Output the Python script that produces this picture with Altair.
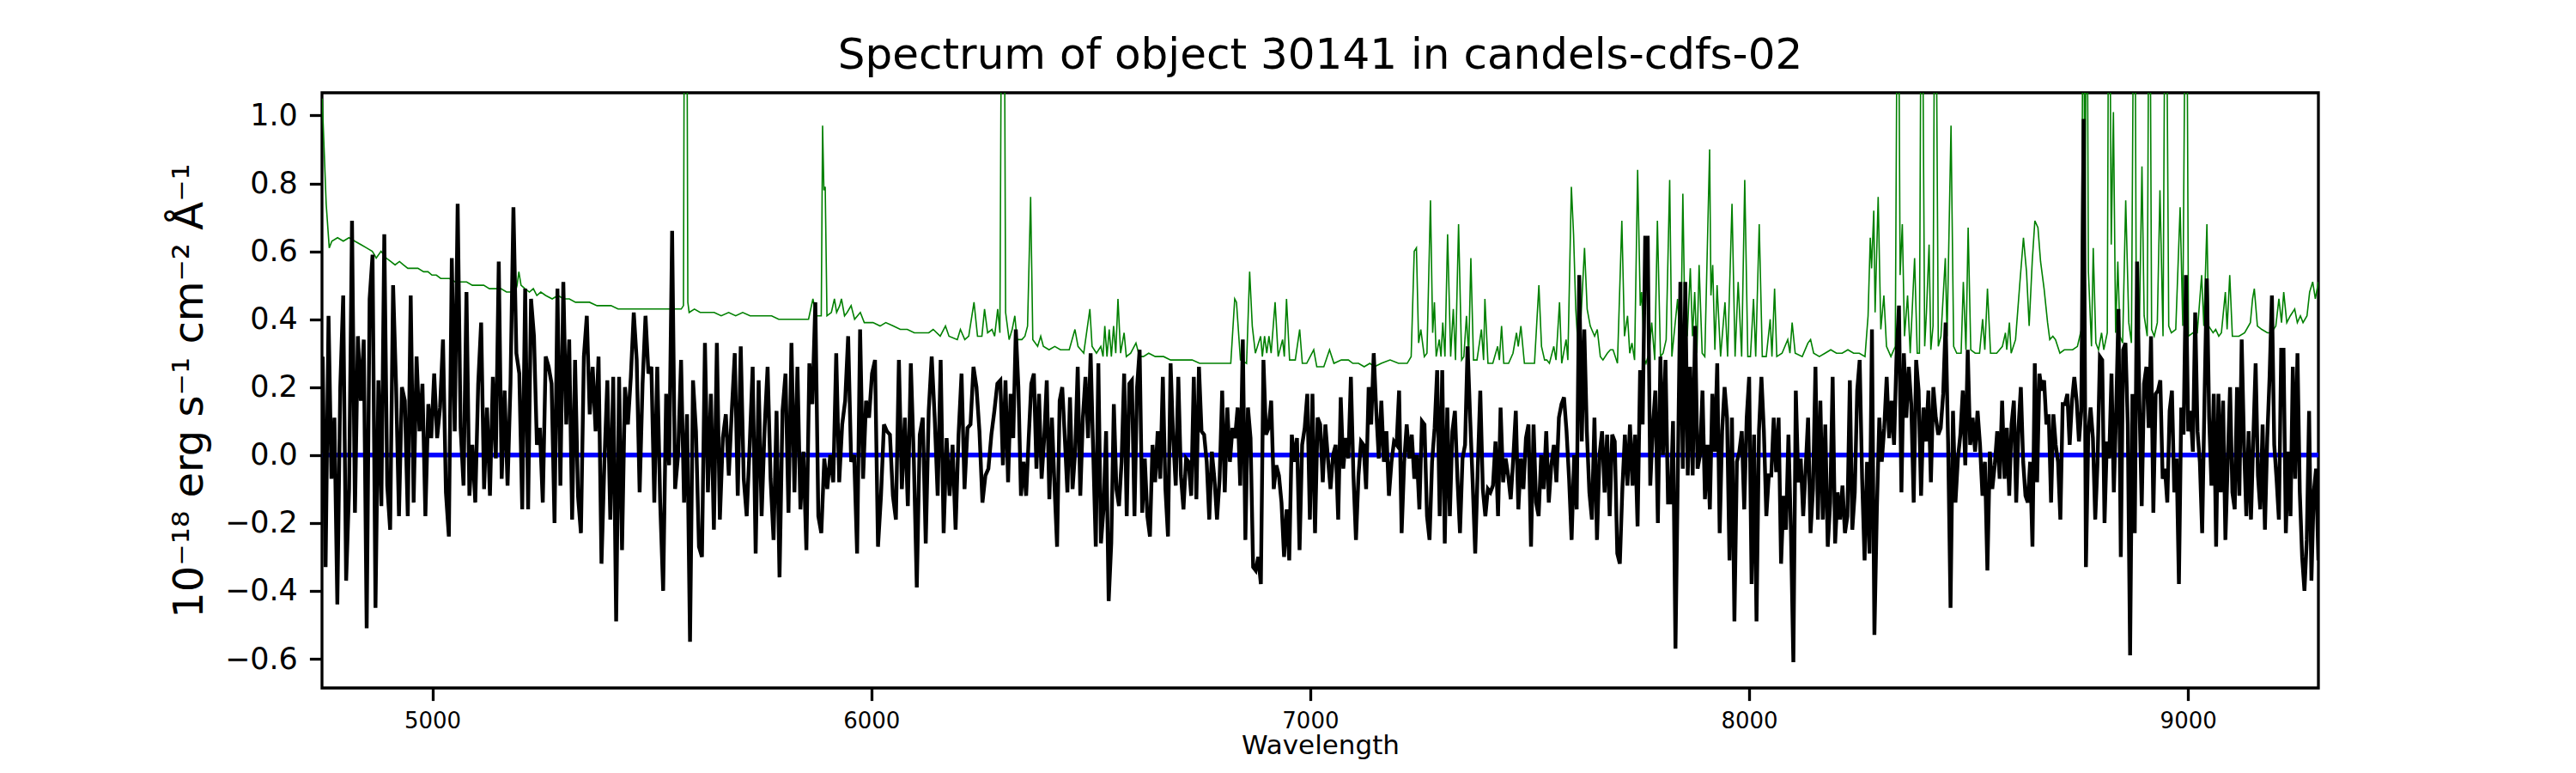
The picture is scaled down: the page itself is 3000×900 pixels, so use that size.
import altair as alt
import numpy as np
import pandas as pd

# ---------------- data ----------------
TITLE = "Spectrum of object 30141 in candels-cdfs-02"
X_TITLE = "Wavelength"
Y_TITLE = "10⁻¹⁸ erg s⁻¹ cm⁻² Å⁻¹"
X_TICKS = [5000, 6000, 7000, 8000, 9000]
Y_TICKS = [-0.6, -0.4, -0.2, 0.0, 0.2, 0.4, 0.6, 0.8, 1.0]
X_RANGE = [4748.5, 9297]
Y_RANGE = [-0.686, 1.067]

# black flux, read in six consecutive wavelength segments
SEG_EDGES = [4750, 5519, 6294, 7058, 7821, 8582, 9297]
FLUX_SEG1 = [.29,-.33,.41,-.07,.11,-.44,.20,.47,-.37,-.10,
             .69,-.17,.35,.16,.34,-.51,.46,.59,-.45,.22,
             -.15,.65,-.09,-.22,.50,.21,-.18,.20,.16,-.18,
             .47,-.14,.29,.07,.21,-.18,.15,.05,.24,.05,
             .14,.34,-.11,-.24,.58,.07,.74,.08,-.09,.48,
             -.12,.03,-.14,.21,.39,-.10,.14,-.12,.23,-.01,
             .57,-.07,.19,-.09,.21,.73,.30,.24,-.16,.49,
             -.16,.46,.35,.03,.08,-.14,.29,.26,.21,-.20,
             .49,-.09,.51,.09,.34,-.19,.28,-.12,-.23,.29,
             .41,.12,.26,.07,.29,-.32,-.02,.22,-.19,.23,
             -.49,.23,-.28,.20,.09,.23,.42,.28,-.11,.21,
             .41,.24,.26,-.14,.26]
FLUX_SEG2 = [-.14,-.40,.18,-.03,.66,-.10,.00,.28,-.14,.12,
             -.55,.22,.07,-.27,-.30,.33,-.11,.18,-.22,.33,
             -.19,.05,.12,-.06,.13,.30,-.12,.32,-.07,-.18,
             .03,.26,-.29,.22,-.18,.08,.26,-.07,-.25,.13,
             -.36,.13,.24,-.17,.33,-.11,.26,-.16,.01,-.28,
             .27,.15,.45,-.18,-.23,-.01,-.10,.00,-.08,.30,
             -.08,.09,.16,.35,-.02,.00,-.29,.37,-.07,.16,
             .11,.24,.28,-.27,-.12,.09,.07,.06,-.12,-.19,
             .28,-.10,.11,-.15,.27,-.01,-.39,.06,.11,-.26,
             .13,.29,.11,-.12,.28,-.23,.05,-.12,.03,-.22,
             .06,.24,-.10,.08,.09,.26,.20,.07,-.14,-.06,
             -.04,.06,.13,.21]
FLUX_SEG3 = [.22,-.03,.22,-.08,.18,.05,.37,.20,-.12,-.02,
             -.12,.05,.21,.24,-.04,.18,-.07,.05,.22,-.13,
             .11,-.09,-.27,.16,.20,.05,-.11,.17,-.10,.01,
             .26,-.12,.11,.23,.05,.30,.01,-.27,.27,-.26,
             -.16,.07,-.43,-.26,.15,-.10,-.15,-.02,.24,-.18,
             .21,.22,-.18,.20,.31,-.17,-.01,-.18,-.24,.03,
             -.08,.07,-.07,.23,-.10,-.24,.27,.05,-.09,.23,
             -.06,-.16,-.01,-.02,-.12,.23,-.13,.26,.07,.06,
             -.02,-.19,.01,-.07,-.19,-.07,.19,-.11,.14,-.02,
             .08,.05,.14,-.09,.34,-.25,.14,.05,-.33,-.34,
             -.30,-.38,.28,.06,.08,.16,-.10,-.03,-.06,-.14,
             -.30,-.16,-.31,.06,-.02,.05,-.28,.03,.08,.18,
             -.19,.18,-.23,.11,.09,-.08,.09,-.01,-.10,.00]
FLUX_SEG4 = [.03,-.19,.17,-.04,.05,-.01,.23,-.06,-.25,-.06,
             .04,.03,-.10,.20,.09,.30,.13,-.01,.16,-.02,
             .07,-.12,-.02,.04,.03,.19,-.23,-.02,.09,-.01,
             .06,-.07,.00,-.16,.10,.09,-.18,-.25,-.02,.08,
             .25,-.18,.25,-.26,.14,-.18,.07,.13,-.07,-.23,
             -.01,.03,.32,.11,-.08,-.29,-.04,.19,-.10,-.18,
             -.10,-.11,-.09,.04,-.18,.14,-.08,-.01,-.06,-.13,
             -.01,.13,-.16,-.01,-.10,.05,.09,-.27,.09,-.14,
             -.18,.00,-.10,.07,-.14,-.03,.03,-.08,.11,.15,
             .17,.07,-.07,-.25,.00,-.16,.53,.04,.37,.07,
             -.11,-.19,.11,-.25,.00,.07,-.11,.06,-.18,.06,
             .04,-.29,-.32,-.10,.06,-.09,.09,-.09,.06,-.21,
             .25,.09,.64,.64,-.09,.08,.19,-.20,.29,.00,
             .28,-.14]
FLUX_SEG5 = [-.14,.10,-.57,-.03,.51,-.04,.51,-.06,.26,-.06,
             .38,-.04,.00,.19,-.13,.03,-.16,.18,.01,.27,
             -.23,.07,.20,.11,-.31,.11,-.49,-.02,.01,.07,
             -.16,.11,.23,-.38,.06,-.49,.07,.23,.07,-.18,
             -.06,-.06,.11,-.05,.11,-.32,-.12,-.22,.06,-.22,
             -.61,.19,-.08,-.01,-.18,-.04,.11,-.23,-.10,.26,
             -.19,.16,-.19,.09,-.27,-.14,.23,-.26,-.11,-.19,
             -.09,-.23,-.18,.22,-.22,-.11,.19,.28,-.07,-.31,
             -.02,-.29,.37,-.53,-.16,.11,-.02,.08,.23,.05,
             .16,.03,.29,.44,-.11,.30,.11,.26,.15,-.14,
             .28,.19,-.12,.14,.04,.19,-.08,.20,.11,.06,
             .08,.18,.39,.04,-.45,.13,-.14,-.01,.06,.19,
             -.03,.31,.03,.11,.01,.13,.03,-.12,-.02,-.34,
             .01,-.10,-.03,.07,-.07,.16]
FLUX_SEG6 = [-.07,.08,-.12,.09,.16,-.14,.08,.20,-.02,-.12,
             -.14,-.02,-.27,.27,-.08,.24,.19,.22,.09,.12,
             -.14,.12,.03,-.02,-.19,.15,.15,.18,.03,.16,
             .23,.16,.04,.13,.99,-.33,.06,.14,.05,-.19,
             -.02,.29,.28,-.20,.04,-.01,.24,-.11,.13,.43,
             -.30,.31,.33,.09,-.59,.18,-.23,.57,.16,-.15,
             .21,.26,.08,.35,-.17,.18,.19,.22,-.07,-.04,
             -.14,.13,.19,-.11,-.01,-.38,.14,.06,.53,.07,
             .13,.01,.42,.07,-.02,-.23,.16,.52,.11,-.09,
             .18,-.27,.18,-.11,.16,-.25,-.02,.20,-.11,-.16,
             .20,-.12,.34,.03,-.18,.07,-.19,.05,.27,-.06,
             -.16,.09,-.22,.05,.23,.47,.03,-.07,-.19,.31,
             .31,-.23,.01,-.18,.26,-.07,.30,-.11,-.30,-.40,
             -.25,.13,-.37,-.11,-.04,-.31]

# green curve (wavelength, value); 1.8 = line running off the top
SKY_1 = [(4749,1.05),(4758,0.74),(4765,0.61),(4771,0.63),(4784,0.64),(4797,0.63),(4810,0.64),
         (4823,0.63),(4837,0.62),(4850,0.61),(4863,0.60),(4868,0.59),(4872,0.58),(4883,0.60),
         (4895,0.58),(4905,0.57),(4915,0.56),(4925,0.57),(4934,0.56),(4944,0.55),(4954,0.55),
         (4967,0.55),(4980,0.54),(4990,0.54),(4999,0.53),(5009,0.53),(5019,0.52),(5029,0.52),
         (5039,0.52),(5052,0.51),(5065,0.51),(5078,0.51),(5091,0.50),(5104,0.50),(5117,0.50),
         (5130,0.49),(5143,0.49),(5156,0.49),(5169,0.48),(5189,0.48),(5193,0.50),(5197,0.54),
         (5202,0.50),(5211,0.49),(5221,0.48),(5230,0.49),(5238,0.47),(5247,0.48),(5258,0.47),
         (5273,0.46),(5286,0.47),(5299,0.46),(5312,0.46),(5326,0.45),(5342,0.45),(5358,0.45),
         (5375,0.44),(5391,0.44),(5407,0.44),(5423,0.43),(5440,0.43),(5456,0.43),(5472,0.43),
         (5489,0.43),(5505,0.43)]
SKY_2 = [(5520,0.43),(5531,0.43),(5549,0.43),(5567,0.43),(5572,0.44),(5575,1.8),(5579,1.8),
         (5582,0.45),(5585,0.42),(5597,0.43),(5610,0.42),(5626,0.42),(5642,0.42),(5658,0.41),
         (5675,0.42),(5691,0.41),(5707,0.42),(5724,0.41),(5740,0.41),(5756,0.41),(5773,0.41),
         (5789,0.40),(5805,0.40),(5830,0.40),(5857,0.40),(5867,0.46),(5874,0.41),(5886,0.41),
         (5889,0.97),(5892,0.78),(5895,0.79),(5899,0.41),(5909,0.42),(5916,0.46),(5921,0.42),
         (5928,0.44),(5932,0.46),(5939,0.41),(5945,0.42),(5954,0.44),(5962,0.40),(5975,0.42),
         (5984,0.39),(6004,0.39),(6020,0.38),(6033,0.39),(6050,0.38),(6066,0.37),(6082,0.37),
         (6098,0.36),(6115,0.36),(6131,0.36),(6141,0.37),(6157,0.35),(6169,0.38),(6177,0.35),
         (6196,0.34),(6203,0.37),(6213,0.34),(6222,0.35),(6234,0.45),(6242,0.35),(6252,0.35),
         (6258,0.43),(6265,0.36),(6275,0.37),(6281,0.35),(6288,0.43),(6293,0.36)]
SKY_3 = [(6298,1.8),(6302,1.8),(6306,0.42),(6314,0.34),(6321,0.37),(6327,0.41),(6332,0.34),
         (6343,0.34),(6350,0.35),(6356,0.38),(6363,0.76),(6368,0.34),(6379,0.32),(6386,0.35),
         (6392,0.32),(6405,0.31),(6418,0.32),(6431,0.31),(6451,0.31),(6464,0.37),(6471,0.32),
         (6484,0.30),(6498,0.43),(6503,0.32),(6513,0.30),(6523,0.32),(6528,0.29),(6532,0.38),
         (6537,0.29),(6542,0.37),(6547,0.29),(6552,0.38),(6557,0.30),(6562,0.46),(6568,0.30),
         (6576,0.36),(6581,0.29),(6591,0.30),(6603,0.33),(6611,0.29),(6620,0.29),(6632,0.30),
         (6647,0.29),(6666,0.29),(6682,0.28),(6699,0.28),(6715,0.28),(6731,0.28),(6748,0.27),
         (6764,0.27),(6780,0.27),(6797,0.27),(6819,0.27),(6828,0.46),(6832,0.45),(6841,0.28),
         (6855,0.27),(6862,0.54),(6868,0.38),(6875,0.30),(6887,0.35),(6891,0.29),(6896,0.35),
         (6901,0.30),(6906,0.35),(6911,0.30),(6920,0.45),(6927,0.29),(6937,0.34),(6941,0.29),
         (6946,0.46),(6953,0.28),(6966,0.28),(6976,0.37),(6982,0.27),(6992,0.27),(7000,0.29),
         (7008,0.31),(7015,0.26),(7031,0.26),(7044,0.31)]
SKY_4 = [(7054,0.27),(7071,0.28),(7087,0.28),(7097,0.27),(7110,0.27),(7123,0.26),(7136,0.27),
         (7146,0.26),(7162,0.27),(7182,0.28),(7201,0.27),(7221,0.27),(7230,0.29),(7237,0.60),
         (7242,0.61),(7247,0.33),(7252,0.37),(7260,0.29),(7266,0.30),(7274,0.75),(7279,0.36),
         (7283,0.45),(7287,0.29),(7294,0.34),(7298,0.29),(7302,0.39),(7307,0.29),(7313,0.65),
         (7320,0.29),(7326,0.43),(7331,0.28),(7338,0.68),(7345,0.28),(7350,0.29),(7356,0.41),
         (7361,0.29),(7366,0.58),(7372,0.28),(7380,0.28),(7390,0.37),(7395,0.28),(7398,0.46),
         (7405,0.27),(7416,0.27),(7427,0.32),(7431,0.28),(7436,0.38),(7441,0.27),(7452,0.27),
         (7462,0.30),(7470,0.36),(7474,0.32),(7480,0.38),(7488,0.27),(7501,0.27),(7511,0.27),
         (7521,0.50),(7527,0.32),(7534,0.28),(7539,0.28),(7545,0.27),(7555,0.32),(7560,0.28),
         (7568,0.45),(7573,0.27),(7583,0.34),(7587,0.28),(7595,0.79),(7600,0.65),(7605,0.43),
         (7612,0.28),(7625,0.61),(7631,0.43),(7638,0.38),(7648,0.35),(7654,0.37),(7661,0.29),
         (7667,0.28),(7677,0.30),(7684,0.31),(7690,0.31),(7700,0.27),(7710,0.69),(7716,0.35),
         (7723,0.41),(7728,0.30),(7733,0.33),(7739,0.28),(7746,0.84),(7752,0.44),(7755,0.48),
         (7762,0.28),(7765,0.27),(7772,0.30),(7778,0.39),(7785,0.28),(7791,0.69),(7798,0.29),
         (7804,0.30),(7811,0.34),(7819,0.81)]
SKY_5 = [(7824,0.29),(7837,0.46),(7844,0.29),(7849,0.77),(7853,0.44),(7859,0.35),(7866,0.55),
         (7871,0.35),(7876,0.48),(7881,0.30),(7886,0.56),(7893,0.30),(7899,0.29),(7910,0.90),
         (7913,0.47),(7917,0.56),(7922,0.31),(7927,0.50),(7935,0.29),(7945,0.45),(7951,0.29),
         (7961,0.74),(7968,0.29),(7975,0.51),(7983,0.29),(7990,0.81),(7997,0.29),(8003,0.29),
         (8010,0.46),(8015,0.29),(8023,0.68),(8030,0.29),(8039,0.29),(8048,0.40),(8052,0.29),
         (8058,0.49),(8063,0.29),(8075,0.30),(8088,0.34),(8093,0.30),(8098,0.39),(8105,0.30),
         (8121,0.29),(8134,0.33),(8140,0.34),(8147,0.30),(8160,0.29),(8173,0.30),(8186,0.31),
         (8199,0.30),(8212,0.30),(8225,0.31),(8238,0.30),(8251,0.30),(8264,0.29),(8271,0.41),
         (8276,0.64),(8279,0.55),(8284,0.72),(8287,0.42),(8294,0.76),(8300,0.37),(8307,0.47),
         (8313,0.32),(8323,0.29),(8333,0.32),(8339,1.8),(8344,0.53),(8349,0.68),(8354,0.35),
         (8361,0.47),(8367,0.30),(8377,0.58),(8383,0.30),(8388,0.30),(8393,1.8),(8400,0.32),
         (8404,0.42),(8410,0.62),(8414,0.31),(8419,0.38),(8424,1.8),(8431,0.32),(8437,0.35),
         (8447,0.58),(8451,0.35),(8460,0.97),(8466,0.32),(8473,0.30),(8483,0.30),(8488,0.51),
         (8494,0.31),(8499,0.67),(8505,0.31),(8515,0.30),(8525,0.30),(8532,0.40),(8537,0.31),
         (8543,0.49),(8550,0.30),(8564,0.30),(8577,0.32)]
SKY_6 = [(8584,0.36),(8587,0.31),(8593,0.39),(8597,0.30),(8607,0.34),(8617,0.51),(8625,0.64),
         (8632,0.54),(8638,0.38),(8645,0.57),(8651,0.69),(8658,0.67),(8664,0.57),(8672,0.49),
         (8680,0.39),(8685,0.34),(8692,0.35),(8698,0.34),(8708,0.30),(8718,0.31),(8728,0.31),
         (8737,0.31),(8748,0.32),(8757,0.37),(8762,1.8),(8765,0.44),(8769,1.8),(8773,0.54),
         (8780,0.32),(8784,0.61),(8790,0.33),(8796,0.31),(8803,0.36),(8808,0.31),(8816,0.36),
         (8820,1.8),(8825,0.62),(8830,1.01),(8835,0.36),(8840,0.57),(8845,0.35),(8851,0.33),
         (8858,0.75),(8865,0.39),(8871,0.33),(8878,1.8),(8882,0.45),(8889,0.37),(8895,0.85),
         (8900,0.41),(8907,0.35),(8912,1.8),(8917,0.37),(8923,0.35),(8930,0.39),(8936,0.78),
         (8943,0.35),(8949,1.8),(8956,0.38),(8962,0.36),(8972,0.37),(8982,0.73),(8988,0.38),
         (8996,1.8),(9001,0.35),(9011,0.36),(9021,0.36),(9031,0.53),(9036,0.38),(9043,0.68),
         (9047,0.38),(9057,0.36),(9063,0.37),(9070,0.35),(9076,0.36),(9085,0.48),(9089,0.37),
         (9095,0.53),(9101,0.35),(9116,0.35),(9129,0.36),(9142,0.39),(9147,0.46),(9151,0.49),
         (9158,0.38),(9168,0.37),(9181,0.36),(9190,0.36),(9200,0.38),(9207,0.46),(9213,0.39),
         (9218,0.48),(9225,0.39),(9233,0.41),(9243,0.43),(9249,0.39),(9256,0.41),(9262,0.39),
         (9271,0.41),(9277,0.48),(9284,0.51),(9290,0.46),(9297,0.51)]

ZERO_LEVEL = [0.0]

# ---------------- tables ----------------
segs = [FLUX_SEG1, FLUX_SEG2, FLUX_SEG3, FLUX_SEG4, FLUX_SEG5, FLUX_SEG6]
waves, fluxes = [], []
for i, seg in enumerate(segs):
    last = i == len(segs) - 1
    w = np.linspace(SEG_EDGES[i], SEG_EDGES[i + 1], len(seg), endpoint=last)
    waves.extend(w.tolist())
    fluxes.extend(seg)
flux_df = pd.DataFrame({"wave": waves, "flux": fluxes})

sky = SKY_1 + SKY_2 + SKY_3 + SKY_4 + SKY_5 + SKY_6
sky_df = pd.DataFrame(sky, columns=["wave", "flux"])
zero_df = pd.DataFrame({"flux": ZERO_LEVEL})

FONT = "DejaVu Sans"

x_enc = alt.X(
    "wave:Q",
    scale=alt.Scale(domain=X_RANGE, nice=False, zero=False),
    axis=alt.Axis(values=X_TICKS, format="d", title=X_TITLE,
                  labelFontSize=26, titleFontSize=31, labelPadding=11,
                  titlePadding=1),
)
y_enc = alt.Y(
    "flux:Q",
    scale=alt.Scale(domain=Y_RANGE, nice=False, zero=False),
    axis=alt.Axis(values=Y_TICKS, format=".1f", title=Y_TITLE,
                  labelFontSize=35, titleFontSize=48, labelPadding=14,
                  titlePadding=16),
)

sky_line = alt.Chart(sky_df).mark_line(
    color="#008000", strokeWidth=1.6, clip=True
).encode(x=x_enc, y=y_enc, order="wave:Q")

zero_rule = alt.Chart(zero_df).mark_rule(
    color="#0000ff", strokeWidth=5.5
).encode(y=y_enc)

flux_line = alt.Chart(flux_df).mark_line(
    color="#000000", strokeWidth=4.4, clip=True
).encode(x=x_enc, y=y_enc, order="wave:Q")

chart = alt.layer(sky_line, zero_rule, flux_line).properties(
    width=2325,
    height=693,
    title=alt.TitleParams(TITLE, fontSize=50, font=FONT, fontWeight="normal",
                          color="black", anchor="middle", offset=-22,
                          baseline="alphabetic"),
    autosize=alt.AutoSizeParams(type="none"),
    padding={"left": 367, "top": 100, "right": 292, "bottom": 92},
).configure_view(
    stroke="black", strokeWidth=3.3
).configure_axis(
    labelFont=FONT, titleFont=FONT, labelColor="black", titleColor="black",
    titleFontWeight="normal", tickColor="black", tickWidth=3.3, tickSize=14.6,
    grid=False, domain=False,
)

chart.save("out.html", embed_options={"renderer": "svg", "actions": False})
